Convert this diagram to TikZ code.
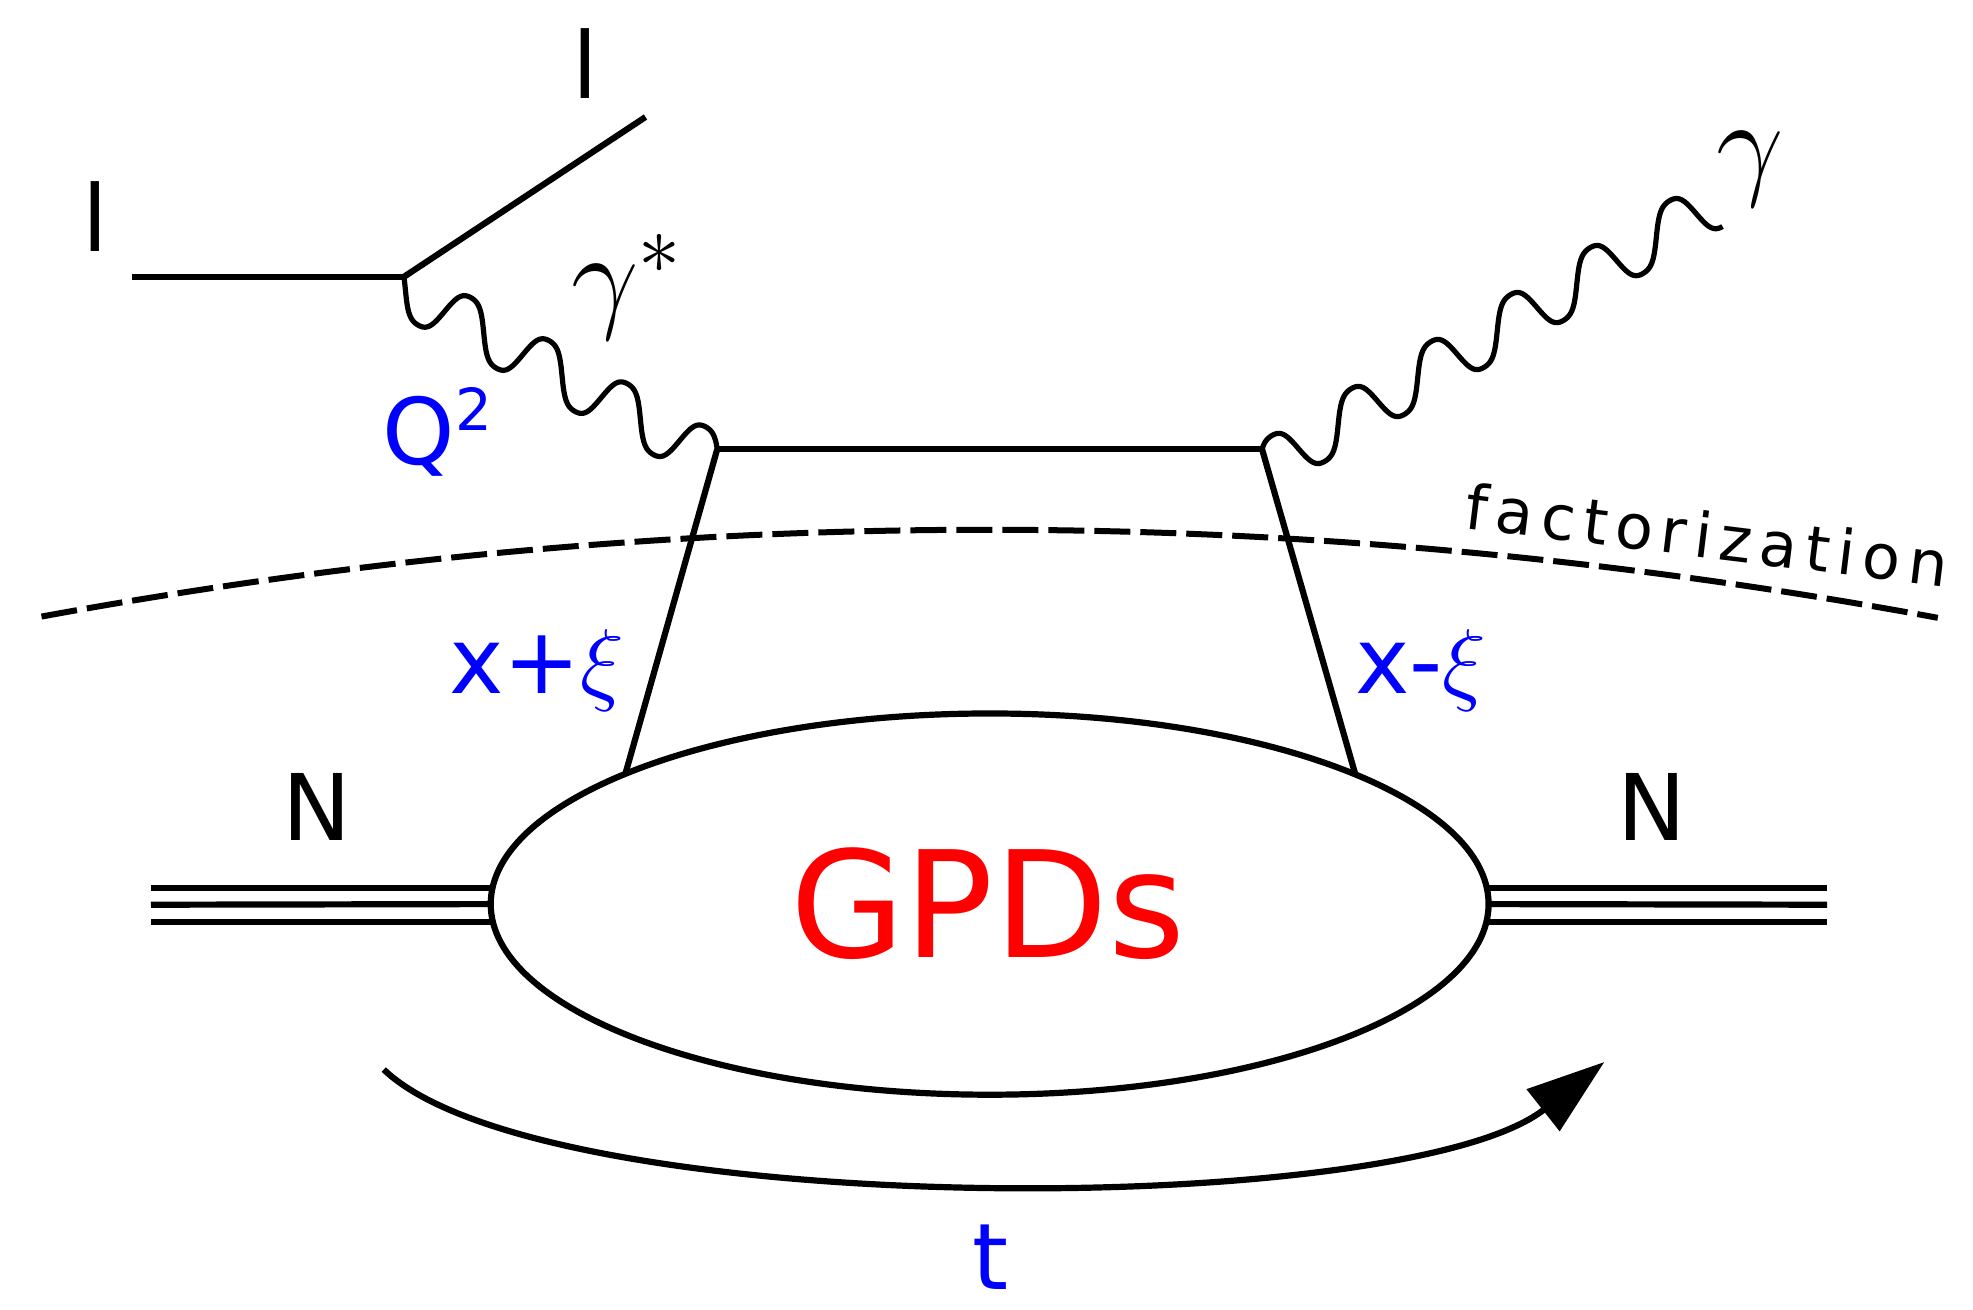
\RequirePackage{fix-cm}
\documentclass[tikz,border=0pt]{standalone}
\usepackage{fontspec}
\setmainfont{DejaVu Sans}
\usetikzlibrary{shapes.geometric,arrows.meta,calc}
% wave profile with rounded crests (expands inline in pgfmath)
\newcommand\wv[1]{((sin(#1)+0.07*sin(3*(#1)))/0.93)}
% wavy photon line: from, to, start phase, end phase, amplitude (pt), oscillation angle
\newcommand\photonline[6]{%
  \draw[wave] let \p1=(#1), \p2=(#2) in
    plot[variable=\t, domain=0:1, samples=401, smooth]
    ({\x1+\t*(\x2-\x1)+(#5)*(\wv{#3+\t*(#4-#3)}-(1-\t)*\wv{#3}-\t*\wv{#4})*cos(#6)},
     {\y1+\t*(\y2-\y1)+(#5)*(\wv{#3+\t*(#4-#3)}-(1-\t)*\wv{#3}-\t*\wv{#4})*sin(#6)});}
\begin{document}
\begin{tikzpicture}[x=0.6291pt, y=-0.6291pt,
  line/.style={line width=3.1pt},
  wave/.style={line width=2.6pt, line join=round},
  lbl/.style={inner sep=0pt, outer sep=0pt, font=\fontsize{46pt}{54pt}\selectfont},
  blu/.style={lbl, text=blue},
  greek/.style={inner sep=0pt, outer sep=0pt, font=\fontsize{60pt}{70pt}\selectfont},
  factline/.style={line width=3pt, dash pattern=on 18pt off 5pt},
  tarrow/.style={line width=3.1pt, -{Triangle[length=39pt,width=26pt]}}
]
\useasboundingbox (0,0) rectangle (1568,1041);

% vertices
\coordinate (lin0) at (105,220);
\coordinate (A) at (321,220);
\coordinate (lout0) at (513,93);
\coordinate (B) at (570,357);
\coordinate (C) at (1003,357);
\coordinate (D) at (1369,180);

% leptons
\draw[line] (lin0) -- (A);
\draw[line] (A) -- (lout0);
\node[lbl, anchor=base] (lIn) at (76,200) {l};
\node[lbl, anchor=base] (lOut) at (465,78) {l};

% photons
\photonline{A}{B}{160}{1600}{12.75}{75}
\photonline{C}{D}{37.5}{2070}{12.75}{105}
\node[greek, anchor=base west] (gstar) at (454,251.6) {$\gamma^*$};
\node[greek, anchor=base] (greal) at (1391,146) {$\gamma$};
\node[blu, anchor=base west] (Q2) at (304,369.5) {Q\kern0.5pt\raisebox{17.3pt}{\fontsize{29pt}{32pt}\selectfont 2}};

% hard part
\draw[line] (B) -- (C);
\node[draw, ellipse, line width=3.1pt, inner sep=0pt, outer sep=0pt,
      minimum width=498.9pt, minimum height=190.6pt] (blob) at (786.5,718.5) {};
\coordinate (qL) at (497,615);
\coordinate (qR) at (1077,615);
\draw[line] (B) -- (qL);
\draw[line] (C) -- (qR);
\node[blu, anchor=base west] (xp) at (357,551) {x+$\xi$};
\node[blu, anchor=base west] (xm) at (1077,551) {x-$\xi$};

% GPDs
\node[inner sep=0pt, anchor=base, text=red, font=\fontsize{74pt}{80pt}\selectfont] (gpd) at (785,761) {GPDs};

% nucleons
\coordinate (nL1) at (120,705.5); \coordinate (eL1) at (391.6,705.5);
\coordinate (nL2) at (120,719);
\coordinate (nL3) at (120,732.5); \coordinate (eL3) at (391.6,732.5);
\coordinate (nR1) at (1452,705.5); \coordinate (eR1) at (1181.4,705.5);
\coordinate (nR2) at (1452,719);
\coordinate (nR3) at (1452,732.5); \coordinate (eR3) at (1181.4,732.5);
\draw[line] (nL1) -- (eL1);
\draw[line] (nL2) -- (blob.west);
\draw[line] (nL3) -- (eL3);
\draw[line] (eR1) -- (nR1);
\draw[line] (blob.east) -- (nR2);
\draw[line] (eR3) -- (nR3);
\node[lbl, anchor=base] (NL) at (252,668) {N};
\node[lbl, anchor=base] (NR) at (1313,668) {N};

% factorization line
\coordinate (fL) at (33,490);
\coordinate (fR) at (1540,491);
\draw[factline] (fL) .. controls (535.3,397.7) and (1037.7,398) .. (fR);
\node[inner sep=0pt, anchor=base west, rotate=-7,
      font=\fontsize{31pt}{36pt}\selectfont\addfontfeatures{LetterSpace=13}] (fact) at (1163,419.6) {factorization};

% t arrow
\coordinate (tS) at (305,850);
\coordinate (tE) at (1275,844);
\draw[tarrow] (tS) .. controls (430,970) and (1115,970) .. (tE);
\node[blu, anchor=base] (tl) at (787,1025) {t};
\end{tikzpicture}
\end{document}
